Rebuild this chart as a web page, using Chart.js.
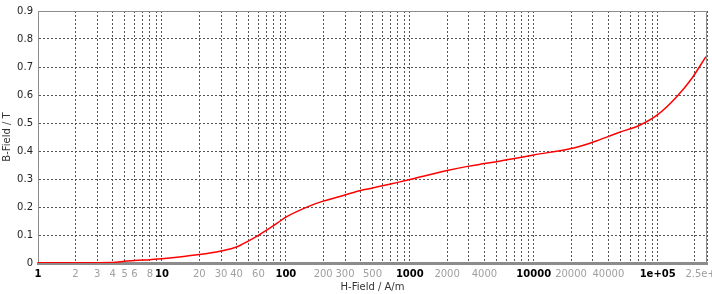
<!DOCTYPE html>
<html>
<head>
<meta charset="utf-8">
<script src="https://cdn.jsdelivr.net/npm/chart.js@4/dist/chart.umd.min.js"></script>
<style>
  html, body { margin: 0; padding: 0; background: #fff; overflow: hidden; }
  #wrap { width: 712px; height: 294px; }
</style>
</head>
<body>
<div id="wrap"><canvas id="bhChart"></canvas></div>
<script>
// Datos de la curva B-H
const hField = [1, 2, 4, 5, 6, 8, 10, 20, 30, 40, 50, 60, 70, 80, 90, 100, 160, 200, 300, 400, 500, 600, 800, 1000, 2000, 3000, 4000, 5000, 7000, 10000, 20000, 28400, 33000, 47900, 72100, 100000, 143000, 189000, 245000];
const bField = [0.001, 0.001, 0.002, 0.006, 0.009, 0.012, 0.015, 0.030, 0.043, 0.057, 0.079, 0.099, 0.117, 0.134, 0.150, 0.164, 0.206, 0.221, 0.243, 0.259, 0.268, 0.276, 0.288, 0.298, 0.330, 0.346, 0.355, 0.362, 0.373, 0.386, 0.409, 0.428, 0.438, 0.465, 0.493, 0.530, 0.595, 0.660, 0.737];

// Marcas del eje X
const xLabelTicks = [1, 2, 3, 4, 5, 6, 8, 10, 20, 30, 40, 60, 100, 200, 300, 500, 1000, 2000, 4000, 10000, 20000, 40000, 100000, 250000];
const xMajorTicks = [1, 10, 100, 1000, 10000, 100000];
const yTicks = [0, 0.1, 0.2, 0.3, 0.4, 0.5, 0.6, 0.7, 0.8, 0.9];

function xTickText(v) {
    if (v === 100000) return '1e+05';
    if (v === 250000) return '2.5e+05';
    return String(v);
}

const gridTicks = [];
for (let d = 1; d <= 100000; d *= 10) {
    for (let m = 1; m <= 9; m++) {
        if (m * d <= 250000) gridTicks.push(m * d);
    }
}
gridTicks.push(250000);

// Marco del área de trazado
const framePlugin = {
    id: 'frame',
    afterDraw(chart) {
        const a = chart.chartArea, c = chart.ctx;
        c.save();
        c.strokeStyle = '#8c8c8c';
        c.lineWidth = 1;
        c.beginPath();
        c.moveTo(a.left, a.top + 0.5);
        c.lineTo(a.right - 0.5, a.top + 0.5);
        c.lineTo(a.right - 0.5, a.bottom);
        c.stroke();
        c.restore();
    }
};

const ctx = document.getElementById('bhChart').getContext('2d');
new Chart(ctx, {
    type: 'line',
    data: {
        datasets: [{
            data: hField.map((h, i) => ({ x: h, y: bField[i] })),
            borderColor: '#ff0000',
            borderWidth: 1.5,
            pointRadius: 0,
            cubicInterpolationMode: 'monotone',
            fill: false
        }]
    },
    options: {
        responsive: true,
        maintainAspectRatio: false,
        animation: false,
        layout: { padding: { top: 9, right: 5, left: 0, bottom: 0 } },
        plugins: { legend: { display: false }, tooltip: { enabled: false } },
        scales: {
            x: {
                type: 'logarithmic',
                min: 1,
                max: 250000,
                afterBuildTicks: s => { s.ticks = gridTicks.map(v => ({ value: v })); },
                afterFit: s => { s.height = 31; s.paddingLeft = 0; s.paddingRight = 0; },
                grid: { color: '#555', lineWidth: 1, drawTicks: false },
                border: { color: '#8c8c8c', width: 3, dash: [2, 2] },
                ticks: {
                    autoSkip: false,
                    maxRotation: 0,
                    padding: 5,
                    callback: v => xLabelTicks.includes(v) ? xTickText(v) : '',
                    color: c => xMajorTicks.includes(c.tick.value) ? '#000' : '#a0a0a0',
                    font: c => ({ family: 'DejaVu Sans', size: 10, weight: xMajorTicks.includes(c.tick && c.tick.value) ? 'bold' : 'normal' })
                },
                title: { display: true, text: 'H-Field / A/m', color: '#333', font: { family: 'DejaVu Sans', size: 10 }, padding: { top: 0, bottom: 1 } }
            },
            y: {
                min: 0,
                max: 0.9,
                afterBuildTicks: s => { s.ticks = yTicks.map(v => ({ value: v })); },
                afterFit: s => { s.width = 38; },
                grid: { color: '#555', lineWidth: 1, drawTicks: false },
                border: { color: '#8c8c8c', width: 1, dash: [2, 2] },
                ticks: {
                    padding: 5,
                    color: '#222',
                    font: { family: 'DejaVu Sans', size: 10 },
                    callback: v => String(Math.round(v * 10) / 10)
                },
                title: { display: true, text: 'B-Field / T', color: '#333', font: { family: 'DejaVu Sans', size: 10 }, padding: { top: 1, bottom: 0 } }
            }
        }
    },
    plugins: [framePlugin]
});
</script>
</body>
</html>
